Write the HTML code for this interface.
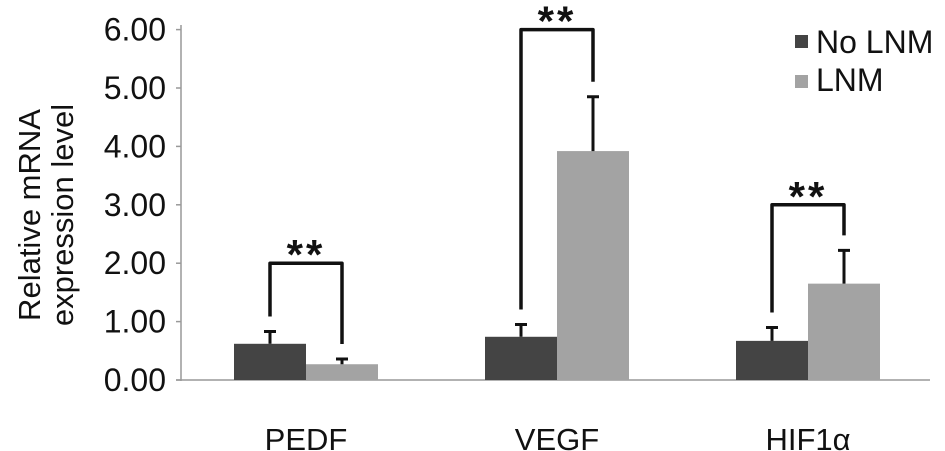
<!DOCTYPE html>
<html><head><meta charset="utf-8"><style>
html,body{margin:0;padding:0;background:#fff;}
svg{display:block;font-family:"Liberation Sans",Arial,sans-serif;}
</style></head><body>
<svg id="chart" width="945" height="451" viewBox="0 0 945 451"></svg>
<script>
const categories = ["PEDF","VEGF","HIF1\u03b1"];
const noLnmValues = [0.62, 0.74, 0.67];
const noLnmErrors = [0.21, 0.21, 0.23];
const lnmValues = [0.27, 3.92, 1.65];
const lnmErrors = [0.09, 0.93, 0.57];
const yTicks = [0,1,2,3,4,5,6];
const yTickLabels = ["0.00","1.00","2.00","3.00","4.00","5.00","6.00"];
const bracketTops = [2.00, 6.00, 3.00];
const significance = ["**","**","**"];

const NS="http://www.w3.org/2000/svg";
const svg=document.getElementById('chart');
const y0=380, pxPerUnit=58.4;
function yScale(v){return y0-v*pxPerUnit;}
const groupStart=234, groupStep=251, barW=72;
function xScale(i){return groupStart+i*groupStep;}
function mk(tag,attrs,parent){const e=document.createElementNS(NS,tag);for(const k in attrs)e.setAttribute(k,attrs[k]);(parent||svg).appendChild(e);return e;}

const yAxis=mk('line',{x1:181,y1:25,x2:181,y2:381,stroke:'#999','stroke-width':1.5});


const xAxis=mk('line',{x1:176,y1:380,x2:930,y2:380,stroke:'#999','stroke-width':1.5});



yTicks.forEach((t,i)=>{
  const y=yScale(t);
  const tk=mk('line',{x1:176,y1:y,x2:181,y2:y,stroke:'#999','stroke-width':1.5});
  
  
  const tx=mk('text',{x:166,y:y+11,'text-anchor':'end','font-size':32,fill:'#111'});
  tx.textContent=yTickLabels[i];
  
  
});

const yt=mk('text',{transform:'translate(47,215) rotate(-90)','text-anchor':'middle','font-size':31,fill:'#111'});


const t1=mk('tspan',{x:0,dy:-7},yt);t1.textContent='Relative mRNA';
const t2=mk('tspan',{x:0,dy:33},yt);t2.textContent='expression level';

categories.forEach((c,i)=>{
  const x=xScale(i);
  const specs=[[noLnmValues[i],noLnmErrors[i],x,'#444','bar-no-lnm'],[lnmValues[i],lnmErrors[i],x+barW,'#a3a3a3','bar-lnm']];
  specs.forEach(([v,e,bx,col,nm])=>{
    const r=mk('rect',{x:bx,y:yScale(v),width:barW,height:y0-yScale(v),fill:col});
    
    
    const cx=bx+barW/2;
    const eb=mk('path',{d:`M${cx},${yScale(v)} V${yScale(v+e)} M${cx-6},${yScale(v+e)} H${cx+6}`,stroke:'#111','stroke-width':3,fill:'none'});
    
    
  });
  const lx=x+barW/2, rx=x+barW*1.5, ty=yScale(bracketTops[i]);
  const ly=yScale(noLnmValues[i]+noLnmErrors[i])-15, ry=yScale(lnmValues[i]+lnmErrors[i])-15;
  const br=mk('path',{d:`M${lx},${ly} V${ty} H${rx} V${ry}`,stroke:'#111','stroke-width':3.5,fill:'none','stroke-linejoin':'round'});
  
  
  const st=mk('text',{x:(lx+rx)/2,y:ty+6,'text-anchor':'middle','font-size':42,'font-weight':'bold','letter-spacing':3,fill:'#111'});
  st.textContent=significance[i];
  
  
  const lb=mk('text',{x:x+barW,y:450,'text-anchor':'middle','font-size':31,fill:'#111'});
  lb.textContent=c;
  
  
});

[['No LNM','#444',35,53],['LNM','#a3a3a3',75,91]].forEach(([t,c,sy,ty])=>{
  const g=mk('g',{});
  
  
  mk('rect',{x:795,y:sy,width:13,height:13,fill:c},g);
  const tx=mk('text',{x:816,y:ty,'font-size':32,fill:'#111'},g);
  tx.textContent=t;
});
</script>
</body></html>
